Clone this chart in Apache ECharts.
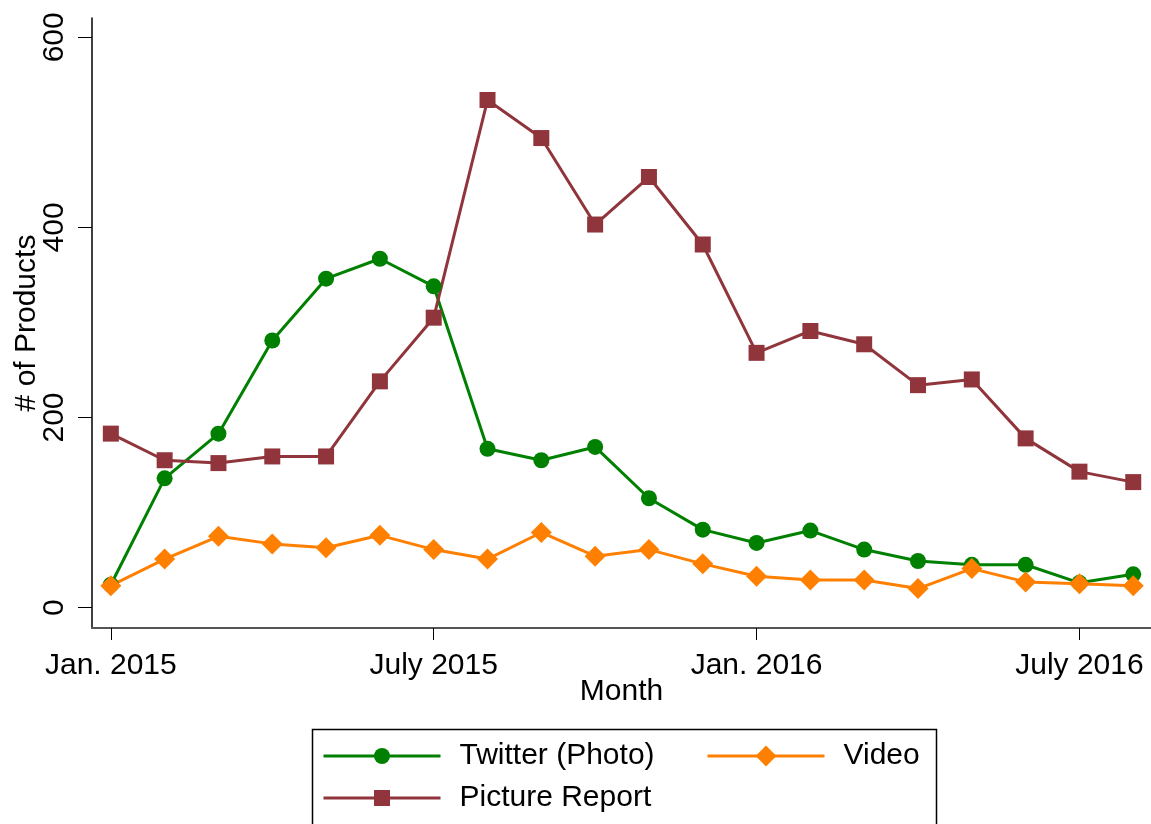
<!DOCTYPE html>
<html>
<head>
<meta charset="utf-8">
<style>
  html, body { margin: 0; padding: 0; background: #fff; }
  #chart { width: 1151px; height: 824px; }
</style>
<script src="https://cdn.jsdelivr.net/npm/echarts@6/dist/echarts.min.js"></script>
</head>
<body>
<div id="chart"></div>
<script>
// months Jan 2015 .. Aug 2016
var months = ['2015-01', '2015-02', '2015-03', '2015-04', '2015-05', '2015-06', '2015-07', '2015-08', '2015-09', '2015-10',
  '2015-11', '2015-12', '2016-01', '2016-02', '2016-03', '2016-04', '2016-05', '2016-06', '2016-07', '2016-08'];
var twitter = [24, 136, 183, 281, 346, 367, 338, 167, 155, 169, 115, 82, 68, 81, 61, 49, 45, 45, 26, 35];
var video = [23, 51, 75, 67, 63, 76, 61, 51, 79, 54, 61, 46, 33, 29, 29, 20, 41, 27, 25, 23];
var picture = [183, 155, 152, 159, 159, 238, 305, 534, 494, 403, 453, 382, 268, 291, 277, 234, 240, 178, 143, 132];

var tickMonths = [0, 6, 12, 18];
var tickLabels = ['Jan. 2015', 'July 2015', 'Jan. 2016', 'July 2016'];
var yTicks = [0, 200, 400, 600];

var font = "'Liberation Sans', Arial, sans-serif";

function pairs(arr) {
  return months.map(function (m, i) { return [i, arr[i]]; });
}

var legendText = { fontSize: 30, lineHeight: 30, color: '#000', fontFamily: font, padding: [0, 0, 0, 14] };

var chart = echarts.init(document.getElementById('chart'));
var option = {
  animation: false,
  textStyle: { fontFamily: font },
  grid: { left: 92, right: 0, top: 18, bottom: 196, outerBoundsMode: 'none' },
  xAxis: {
    type: 'value',
    min: -0.35,
    max: 19.33,
    name: 'Month',
    nameLocation: 'middle',
    nameGap: 49,
    nameMoveOverlap: false,
    nameTextStyle: { fontSize: 30, color: '#000', fontFamily: font },
    axisLine: { onZero: false, lineStyle: { color: '#555', width: 2 } },
    axisTick: { customValues: tickMonths, length: 12, lineStyle: { color: '#000', width: 1 } },
    axisLabel: {
      customValues: tickMonths,
      fontSize: 30, color: '#000', margin: 23, fontFamily: font,
      formatter: function (v) { return tickLabels[tickMonths.indexOf(v)]; }
    },
    splitLine: { show: false }
  },
  yAxis: {
    type: 'value',
    min: -21.5,
    max: 620.3,
    name: '# of Products',
    nameLocation: 'middle',
    nameGap: 50,
    nameRotate: 90,
    nameMoveOverlap: false,
    nameTextStyle: { fontSize: 30, color: '#000', fontFamily: font },
    axisLine: { show: true, onZero: false, lineStyle: { color: '#000', width: 1.5 } },
    axisTick: { show: true, customValues: yTicks, length: 14, lineStyle: { color: '#000', width: 1 } },
    axisLabel: {
      customValues: yTicks,
      rotate: 90, fontSize: 30, color: '#000', margin: 22, fontFamily: font
    },
    splitLine: { show: false }
  },
  legend: [
    {
      data: ['Twitter (Photo)', 'Picture Report'],
      orient: 'vertical',
      left: 322, top: 741,
      itemWidth: 117, itemHeight: 20, itemGap: 12,
      padding: 0,
      lineStyle: { width: 3 },
      textStyle: legendText
    },
    {
      data: ['Video'],
      orient: 'vertical',
      left: 706, top: 741,
      itemWidth: 117, itemHeight: 26, itemGap: 12,
      padding: 0,
      lineStyle: { width: 3 },
      textStyle: legendText
    }
  ],
  graphic: [{
    type: 'rect',
    left: 310, top: 727,
    shape: { width: 624, height: 110 },
    style: { fill: 'none', stroke: '#000', lineWidth: 1.5 },
    silent: true
  }],
  series: [
    {
      name: 'Twitter (Photo)',
      type: 'line',
      data: pairs(twitter),
      symbol: 'circle', symbolSize: 16,
      color: '#008000',
      lineStyle: { width: 3, color: '#008000' },
      itemStyle: { color: '#008000' }
    },
    {
      name: 'Video',
      type: 'line',
      data: pairs(video),
      symbol: 'diamond', symbolSize: 21,
      color: '#FF8000',
      lineStyle: { width: 3, color: '#FF8000' },
      itemStyle: { color: '#FF8000' }
    },
    {
      name: 'Picture Report',
      type: 'line',
      data: pairs(picture),
      symbol: 'rect', symbolSize: 16,
      color: '#90353B',
      lineStyle: { width: 3, color: '#90353B' },
      itemStyle: { color: '#90353B' }
    }
  ]
};
chart.setOption(option);
</script>
</body>
</html>
